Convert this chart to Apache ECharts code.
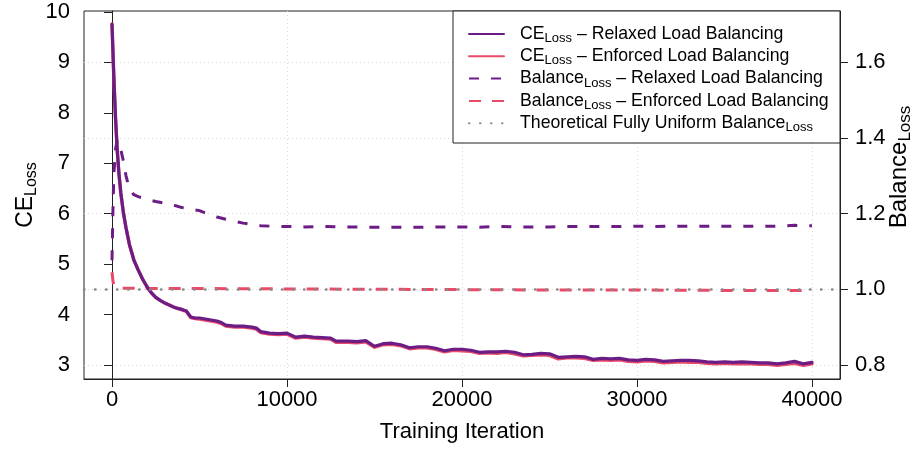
<!DOCTYPE html>
<html>
<head>
<meta charset="utf-8">
<script src="https://cdn.jsdelivr.net/npm/echarts@6/dist/echarts.min.js"></script>
<style>
  html, body { margin: 0; padding: 0; background: #fff; }
  #chart { width: 912px; height: 450px; }
</style>
</head>
<body>
<div id="chart"></div>
<script>
// Cross-entropy loss per training iteration
const ceIterations = [
  0, 100, 200, 300, 400, 500, 650, 800, 1000, 1250, 1500, 1750, 2000, 2250, 2500, 2750,
  3000, 3250, 3500, 3750, 4000, 4250, 4500, 4750, 5000, 5500, 6000, 6250, 6500, 7000,
  7500, 8000, 8250, 8500, 9000, 9500, 10000, 10500, 11000, 11500, 12000, 12500, 12800,
  13500, 14000, 14500, 15000, 15500, 16000, 16500, 17000, 17500, 18000, 18500, 19000,
  19500, 20000, 20500, 21000, 21500, 22000, 22500, 23000, 23500, 24000, 24500, 25000,
  25500, 26000, 26500, 27000, 27500, 28000, 28500, 29000, 29500, 30000, 30500, 31000,
  31500, 32000, 32500, 33000, 33500, 34000, 34500, 35000, 35500, 36000, 36500, 37000,
  37500, 38000, 38500, 39000, 39500, 40000
];
const ceRelaxed = [
  9.76, 8.75, 7.90, 7.25, 6.78, 6.42, 6.02, 5.72, 5.38, 5.08, 4.88, 4.70, 4.55, 4.43, 4.34, 4.28,
  4.23, 4.19, 4.15, 4.12, 4.10, 4.07, 3.95, 3.93, 3.93, 3.90, 3.87, 3.84, 3.79, 3.77,
  3.77, 3.75, 3.73, 3.66, 3.63, 3.62, 3.63, 3.55, 3.57, 3.55, 3.54, 3.53, 3.47,
  3.47, 3.46, 3.48, 3.37, 3.42, 3.43, 3.40, 3.34, 3.36, 3.36, 3.33, 3.28,
  3.31, 3.31, 3.29, 3.25, 3.26, 3.26, 3.27, 3.25, 3.20, 3.21, 3.23, 3.22,
  3.15, 3.16, 3.17, 3.16, 3.11, 3.13, 3.12, 3.13, 3.10, 3.09, 3.11, 3.10,
  3.07, 3.08, 3.09, 3.09, 3.08, 3.06, 3.05, 3.06, 3.05, 3.06, 3.05, 3.04,
  3.04, 3.02, 3.04, 3.07, 3.02, 3.05
];
const ceEnforced = [
  9.76, 8.75, 7.90, 7.25, 6.78, 6.42, 6.02, 5.72, 5.38, 5.08, 4.88, 4.70, 4.55, 4.43, 4.34, 4.28,
  4.23, 4.19, 4.15, 4.12, 4.09, 4.06, 3.94, 3.92, 3.91, 3.88, 3.85, 3.82, 3.77, 3.75,
  3.75, 3.73, 3.71, 3.64, 3.61, 3.60, 3.61, 3.53, 3.55, 3.53, 3.52, 3.51, 3.45,
  3.45, 3.44, 3.46, 3.35, 3.40, 3.41, 3.38, 3.32, 3.34, 3.34, 3.31, 3.26,
  3.29, 3.28, 3.27, 3.23, 3.24, 3.23, 3.25, 3.22, 3.18, 3.19, 3.20, 3.19,
  3.12, 3.14, 3.14, 3.13, 3.09, 3.10, 3.09, 3.10, 3.07, 3.06, 3.08, 3.07,
  3.04, 3.05, 3.06, 3.05, 3.05, 3.03, 3.02, 3.03, 3.02, 3.02, 3.02, 3.01,
  3.01, 2.99, 3.01, 3.03, 2.99, 3.02
];

// Load-balancing loss per training iteration
const balRelaxedIterations = [
  0, 50, 100, 200, 300, 400, 500, 650, 800, 1000, 1250, 1500, 2000, 2500, 3000, 3500,
  4000, 4500, 5000, 5500, 6000, 6500, 7000, 7500, 8000, 8500, 9000, 10000, 11000, 12000,
  13000, 14000, 15000, 16000, 17000, 18000, 19000, 20000, 21000, 22000, 23000, 24000,
  25000, 26000, 27000, 28000, 29000, 30000, 31000, 32000, 33000, 34000, 35000, 36000,
  37000, 38000, 39000, 40000
];
const balRelaxed = [
  1.077, 1.200, 1.300, 1.370, 1.395, 1.390, 1.370, 1.340, 1.300, 1.265, 1.250, 1.245, 1.238, 1.232, 1.228, 1.223,
  1.216, 1.212, 1.208, 1.199, 1.191, 1.185, 1.180, 1.175, 1.171, 1.168, 1.167, 1.166, 1.165, 1.166,
  1.165, 1.165, 1.164, 1.164, 1.164, 1.164, 1.165, 1.165, 1.164, 1.166, 1.165, 1.165,
  1.165, 1.166, 1.166, 1.166, 1.166, 1.167, 1.166, 1.167, 1.167, 1.167, 1.167, 1.167,
  1.167, 1.167, 1.169, 1.168
];
const balEnforcedIterations = [0, 60, 120, 200, 500, 1000, 2000, 5000, 10000, 15000, 20000, 25000, 30000, 35000, 40000];
const balEnforced = [1.045, 1.020, 1.008, 1.004, 1.003, 1.003, 1.002, 1.002, 1.001, 1.000, 0.999, 0.998, 0.998, 0.997, 0.997];

// Balance loss of a perfectly uniform expert assignment
const uniformBalance = 1.0;

// Tick values
const xTicks = [0, 10000, 20000, 30000, 40000];
const ceTicks = [3, 4, 5, 6, 7, 8, 9, 10];
const balTicks = [0.8, 1.0, 1.2, 1.4, 1.6];

const legendLabels = {
  'ce-relaxed': '{sp| }{m|CE}{s|Loss}{m| – Relaxed Load Balancing}',
  'ce-enforced': '{sp| }{m|CE}{s|Loss}{m| – Enforced Load Balancing}',
  'bal-relaxed': '{sp| }{m|Balance}{s|Loss}{m| – Relaxed Load Balancing}',
  'bal-enforced': '{sp| }{m|Balance}{s|Loss}{m| – Enforced Load Balancing}',
  'uniform': '{sp| }{m|Theoretical Fully Uniform Balance}{s|Loss}'
};

const PURPLE = '#6c1d85';
const PINK = '#e84b68';
const GREY = '#8a8a8a';
const FONT = '"Liberation Sans", Arial, Helvetica, sans-serif';

const zip = (xs, ys) => xs.map((x, i) => [x, ys[i]]);

// CE axis spans the data range with a 4% margin; balance axis shares the same pixels
const CE_MIN = 2.72, CE_MAX = 10.02;
const BAL_MIN = 0.8 + (CE_MIN - 3) / 7.5;
const BAL_MAX = 0.8 + (CE_MAX - 3) / 7.5;

const tickLabelStyle = { color: '#000', fontSize: 22, fontFamily: FONT };
const tickLine = { show: true, length: 8, inside: false, lineStyle: { color: '#222', width: 1 } };
const gridDots = { show: true, lineStyle: { color: '#d9d9d9', width: 1, type: [1, 3] } };
const richName = (main, sub) => ({
  m: { fontSize: main, lineHeight: main + 6, fontFamily: FONT, color: '#000' },
  s: { fontSize: sub, lineHeight: sub + 2, verticalAlign: 'bottom', fontFamily: FONT, color: '#000' }
});

const chart = echarts.init(document.getElementById('chart'), null, { renderer: 'canvas' });

chart.setOption({
  animation: false,
  backgroundColor: '#fff',
  textStyle: { fontFamily: FONT },
  grid: {
    left: 84, right: 72, top: 11, bottom: 71,
    show: true, borderColor: '#222', borderWidth: 1,
    containLabel: false, outerBoundsMode: 'none'
  },
  xAxis: {
    type: 'value',
    min: -1600, max: 41600,
    name: 'Training Iteration',
    nameLocation: 'middle',
    nameGap: 42,
    nameMoveOverlap: false,
    nameTextStyle: { color: '#000', fontSize: 22, fontFamily: FONT },
    axisLine: { show: true, onZero: false, lineStyle: { color: '#222', width: 1 } },
    axisTick: Object.assign({ customValues: xTicks }, tickLine),
    axisLabel: Object.assign({ customValues: xTicks, margin: 10, formatter: v => String(v) }, tickLabelStyle),
    splitLine: gridDots
  },
  yAxis: [
    {
      type: 'value',
      position: 'left',
      min: CE_MIN, max: CE_MAX,
      name: '{m|CE}{s|Loss}',
      nameLocation: 'middle',
      nameRotate: 90,
      nameGap: 44,
      nameMoveOverlap: false,
      nameTextStyle: { color: '#000', fontFamily: FONT, rich: richName(23, 16) },
      axisLine: { show: true, lineStyle: { color: '#222', width: 1 } },
      axisTick: Object.assign({ customValues: ceTicks }, tickLine),
      axisLabel: Object.assign({ customValues: ceTicks, margin: 14 }, tickLabelStyle),
      splitLine: { show: false }
    },
    {
      type: 'value',
      position: 'right',
      min: BAL_MIN, max: BAL_MAX,
      name: '{m|Balance}{s|Loss}',
      nameLocation: 'middle',
      nameRotate: 90,
      nameGap: 44,
      nameMoveOverlap: false,
      nameTextStyle: {
        color: '#000', fontFamily: FONT,
        padding: [0, 0, 0, 56],
        rich: richName(24, 17)
      },
      axisLine: { show: true, lineStyle: { color: '#222', width: 1 } },
      axisTick: Object.assign({ customValues: balTicks }, tickLine),
      axisLabel: Object.assign({
        customValues: balTicks, margin: 15,
        formatter: v => v.toFixed(1)
      }, tickLabelStyle),
      splitLine: gridDots
    }
  ],
  legend: {
    orient: 'vertical',
    left: 468, top: 25,
    padding: 0,
    itemGap: 2.3,
    itemWidth: 35,
    itemHeight: 14,
    z: 6,
    selectedMode: false,
    itemStyle: { opacity: 0 },
    data: ['ce-relaxed', 'ce-enforced', 'bal-relaxed', 'bal-enforced', 'uniform'],
    formatter: name => legendLabels[name],
    textStyle: {
      color: '#000', fontFamily: FONT,
      rich: {
        sp: { width: 11, fontSize: 17.7, lineHeight: 22 },
        m: { fontSize: 17.7, lineHeight: 22, fontFamily: FONT, color: '#000' },
        s: { fontSize: 13, lineHeight: 14, verticalAlign: 'bottom', fontFamily: FONT, color: '#000' }
      }
    }
  },
  graphic: [{
    type: 'rect',
    z: 5,
    shape: { x: 453, y: 11, width: 387, height: 132 },
    style: { fill: '#fff', stroke: '#222', lineWidth: 1 }
  }],
  series: [
    {
      name: 'ce-relaxed', type: 'line', yAxisIndex: 0, z: 4,
      data: zip(ceIterations, ceRelaxed),
      showSymbol: false, symbol: 'none',
      lineStyle: { color: PURPLE, width: 3.2, join: 'round', cap: 'round' },
      itemStyle: { color: PURPLE }
    },
    {
      name: 'ce-enforced', type: 'line', yAxisIndex: 0, z: 3,
      data: zip(ceIterations, ceEnforced),
      showSymbol: false, symbol: 'none',
      lineStyle: { color: PINK, width: 3.4, join: 'round', cap: 'round' },
      itemStyle: { color: PINK }
    },
    {
      name: 'bal-relaxed', type: 'line', yAxisIndex: 1, z: 3,
      data: zip(balRelaxedIterations, balRelaxed),
      showSymbol: false, symbol: 'none',
      lineStyle: { color: PURPLE, width: 3, type: [10, 12], join: 'round' },
      itemStyle: { color: PURPLE }
    },
    {
      name: 'bal-enforced', type: 'line', yAxisIndex: 1, z: 3,
      data: zip(balEnforcedIterations, balEnforced),
      showSymbol: false, symbol: 'none',
      lineStyle: { color: PINK, width: 3, type: [12, 11], join: 'round' },
      itemStyle: { color: PINK }
    },
    {
      name: 'uniform', type: 'line', yAxisIndex: 1, z: 2,
      data: [],
      showSymbol: false, symbol: 'none',
      lineStyle: { color: GREY, width: 2.5, type: [0.5, 10.5], cap: 'round' },
      itemStyle: { color: GREY },
      markLine: {
        silent: true,
        symbol: 'none',
        label: { show: false },
        lineStyle: { color: GREY, width: 2.5, type: [0.5, 10.5], cap: 'round' },
        data: [{ yAxis: uniformBalance }]
      }
    }
  ]
});
</script>
</body>
</html>
